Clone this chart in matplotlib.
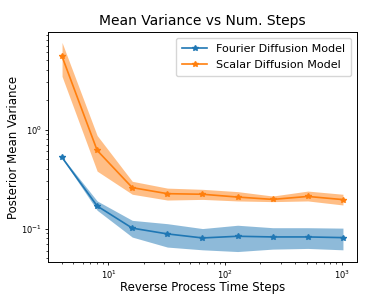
import matplotlib
matplotlib.use("Agg")
import matplotlib.pyplot as plt

steps = [4, 8, 16, 32, 64, 128, 256, 512, 1024]

fourier_mean = [0.522, 0.169, 0.101, 0.0883, 0.0804, 0.0836, 0.0823, 0.0823, 0.081]
fourier_upper = [0.530, 0.190, 0.121, 0.112, 0.100, 0.108, 0.102, 0.102, 0.101]
fourier_lower = [0.514, 0.153, 0.082, 0.065, 0.061, 0.0586, 0.062, 0.063, 0.061]

scalar_mean = [5.47, 0.615, 0.259, 0.225, 0.222, 0.208, 0.197, 0.211, 0.196]
scalar_upper = [7.57, 0.87, 0.30, 0.256, 0.249, 0.236, 0.213, 0.239, 0.222]
scalar_lower = [3.44, 0.38, 0.222, 0.194, 0.197, 0.19, 0.187, 0.19, 0.173]

fig = plt.figure(figsize=(3.83, 2.96), dpi=100)
ax = fig.add_axes([48/383, 34/296, 309/383, 230/296])

ax.plot(steps, fourier_mean, marker='*', markersize=4, linewidth=1.2,
        color='C0', label='Fourier Diffusion Model')
ax.fill_between(steps, fourier_lower, fourier_upper, color='C0', alpha=0.5, linewidth=0)
ax.plot(steps, scalar_mean, marker='*', markersize=4, linewidth=1.2,
        color='C1', label='Scalar Diffusion Model')
ax.fill_between(steps, scalar_lower, scalar_upper, color='C1', alpha=0.5, linewidth=0)

ax.set_xscale('log')
ax.set_yscale('log')
ax.set_title('Mean Variance vs Num. Steps', fontsize=10, pad=5)
ax.set_xlabel('Reverse Process Time Steps', fontsize=8.5, labelpad=0.5)
ax.set_ylabel('Posterior Mean Variance', fontsize=8.5, labelpad=1)
ax.tick_params(labelsize=6, length=2.5, width=0.6, pad=2)
ax.tick_params(which='minor', length=1.5, width=0.5)
for s in ax.spines.values():
    s.set_linewidth(0.7)
ax.legend(loc='upper right', fontsize=8, handlelength=2.3, labelspacing=0.6,
          borderpad=0.55)

fig.savefig('out.png', dpi=100)
